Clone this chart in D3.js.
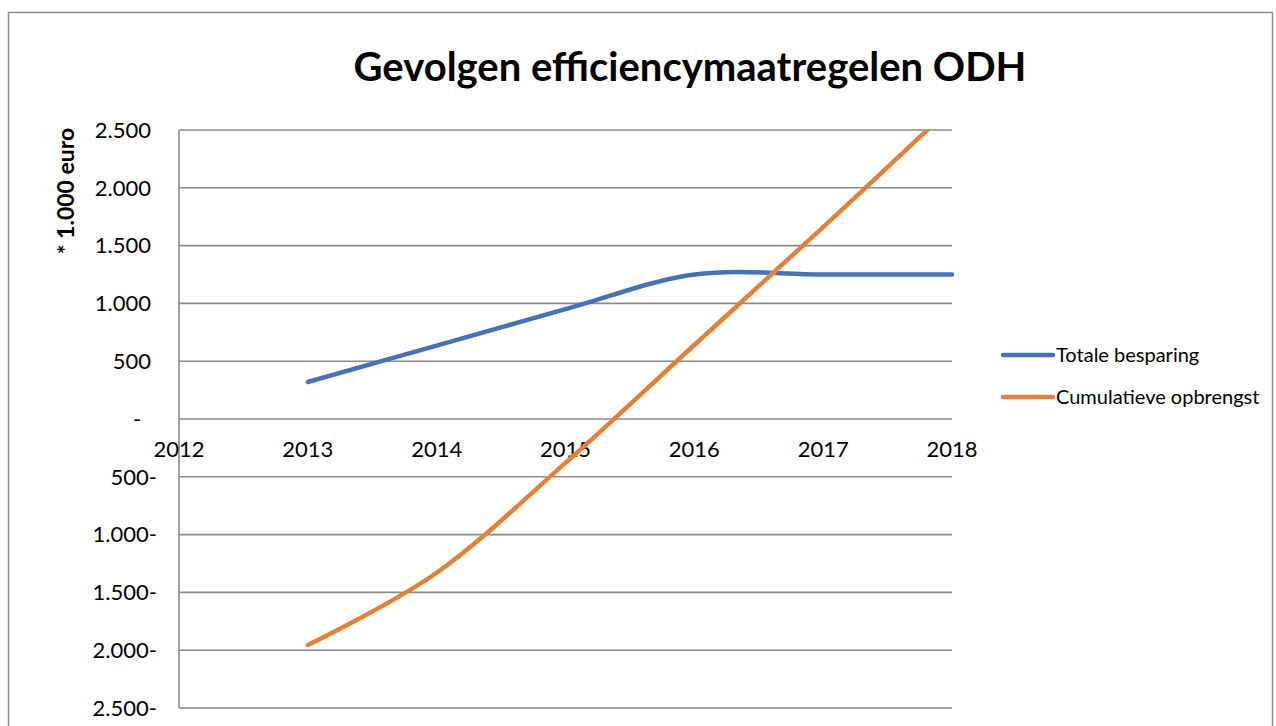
<!DOCTYPE html>
<html>
<head>
    <meta charset="utf-8">
    <title>Gevolgen efficiencymaatregelen ODH</title>
    <script src="https://d3js.org/d3.v7.min.js" charset="utf-8"></script>
    <style>
        body { margin: 0; background: #fff; }
        text { font-family: Lato, "Open Sans", sans-serif; fill: #000; }
        .grid line { stroke: #8a8a8a; stroke-width: 1.6; }
        .tick-label { font-size: 22px; }
        .legend-label { font-size: 20px; }
    </style>
</head>
<body>
<div id="vis_container"></div>
<script>
    // Years on the x axis
    let years = [2012, 2013, 2014, 2015, 2016, 2017, 2018];
    // Series (* 1.000 euro)
    let data_years = [2013, 2014, 2015, 2016, 2017, 2018];
    let totale_besparing = [320, 635, 950, 1250, 1250, 1250];
    let cumulatieve_opbrengst = [-1955, -1330, -380, 640, 1660, 2700];
    let series_names = ["Totale besparing", "Cumulatieve opbrengst"];
    let series_colors = ["#4672B4", "#E0823A"];
    let y_ticks = [2500, 2000, 1500, 1000, 500, 0, -500, -1000, -1500, -2000, -2500];

    let width = 1276, height = 726;
    let plot = {left: 179, right: 952, top: 130, bottom: 708};

    let svg = d3.select("#vis_container")
        .append("svg")
        .attr("width", width)
        .attr("height", height);

    // outer chart border
    svg.append("rect")
        .attr("x", 8.5).attr("y", 12.5)
        .attr("width", 1264).attr("height", 740)
        .attr("fill", "none")
        .attr("stroke", "#8c8c8c")
        .attr("stroke-width", 1.5);

    let x = d3.scaleLinear()
        .domain([2012, 2018])
        .range([plot.left, plot.right]);

    let y = d3.scaleLinear()
        .domain([-2500, 2500])
        .range([plot.bottom, plot.top]);

    // dutch style number: 2.500 and 500- for negatives
    let nl = d3.formatLocale({decimal: ",", thousands: ".", grouping: [3], currency: ["€", ""]});
    let fmt = nl.format(",.0f");

    // horizontal gridlines
    svg.append("g")
        .attr("class", "grid")
        .selectAll("line")
        .data(y_ticks)
        .enter()
        .append("line")
        .attr("x1", plot.left)
        .attr("x2", plot.right)
        .attr("y1", d => y(d))
        .attr("y2", d => y(d));

    // vertical axis line
    svg.append("line")
        .attr("x1", plot.left).attr("x2", plot.left)
        .attr("y1", plot.top).attr("y2", plot.bottom)
        .attr("stroke", "#8a8a8a")
        .attr("stroke-width", 1.6);

    // y tick labels
    svg.append("g")
        .selectAll("text")
        .data(y_ticks)
        .enter()
        .append("text")
        .attr("class", "tick-label")
        .attr("x", d => d == 0 ? 137 : (d > 0 ? 151 : 157))
        .attr("y", d => y(d))
        .attr("dy", "0.35em")
        .style("text-anchor", d => d == 0 ? "middle" : "end")
        .text(d => d == 0 ? "-" : (d > 0 ? fmt(d) : fmt(-d) + "-"));

    // x tick labels, sitting just under the zero line
    svg.append("g")
        .selectAll("text")
        .data(years)
        .enter()
        .append("text")
        .attr("class", "tick-label")
        .attr("x", d => x(d))
        .attr("y", y(0) + 38)
        .style("text-anchor", "middle")
        .text(d => d);

    // title
    svg.append("text")
        .attr("x", 690)
        .attr("y", 81)
        .style("text-anchor", "middle")
        .style("font-size", "40px")
        .style("font-weight", "bold")
        .text("Gevolgen efficiencymaatregelen ODH");

    // y axis label
    svg.append("text")
        .attr("transform", "translate(74,191) rotate(-90)")
        .style("text-anchor", "middle")
        .style("font-size", "23px")
        .style("font-weight", "bold")
        .text("* 1.000 euro");

    // clip to plot area
    svg.append("clipPath")
        .attr("id", "plot-clip")
        .append("rect")
        .attr("x", plot.left).attr("y", plot.top)
        .attr("width", plot.right - plot.left + 3)
        .attr("height", plot.bottom - plot.top);

    let line = d3.line()
        .x(d => x(d[0]))
        .y(d => y(d[1]))
        .curve(d3.curveCardinal.tension(0));

    let all_series = [totale_besparing, cumulatieve_opbrengst];
    svg.append("g")
        .attr("clip-path", "url(#plot-clip)")
        .selectAll("path")
        .data(all_series)
        .enter()
        .append("path")
        .attr("d", d => line(data_years.map((yr, i) => [yr, d[i]])))
        .attr("fill", "none")
        .attr("stroke", (d, i) => series_colors[i])
        .attr("stroke-width", 4.5)
        .attr("stroke-linecap", "round");

    // legend
    let legend = svg.append("g")
        .selectAll("g")
        .data(series_names)
        .enter()
        .append("g")
        .attr("transform", (d, i) => "translate(1003," + (355 + i * 42) + ")");

    legend.append("line")
        .attr("x1", 0).attr("x2", 50)
        .attr("stroke", (d, i) => series_colors[i])
        .attr("stroke-width", 4.5)
        .attr("stroke-linecap", "round");

    legend.append("text")
        .attr("class", "legend-label")
        .attr("x", 53)
        .attr("dy", "0.35em")
        .text(d => d);
</script>
</body>
</html>
